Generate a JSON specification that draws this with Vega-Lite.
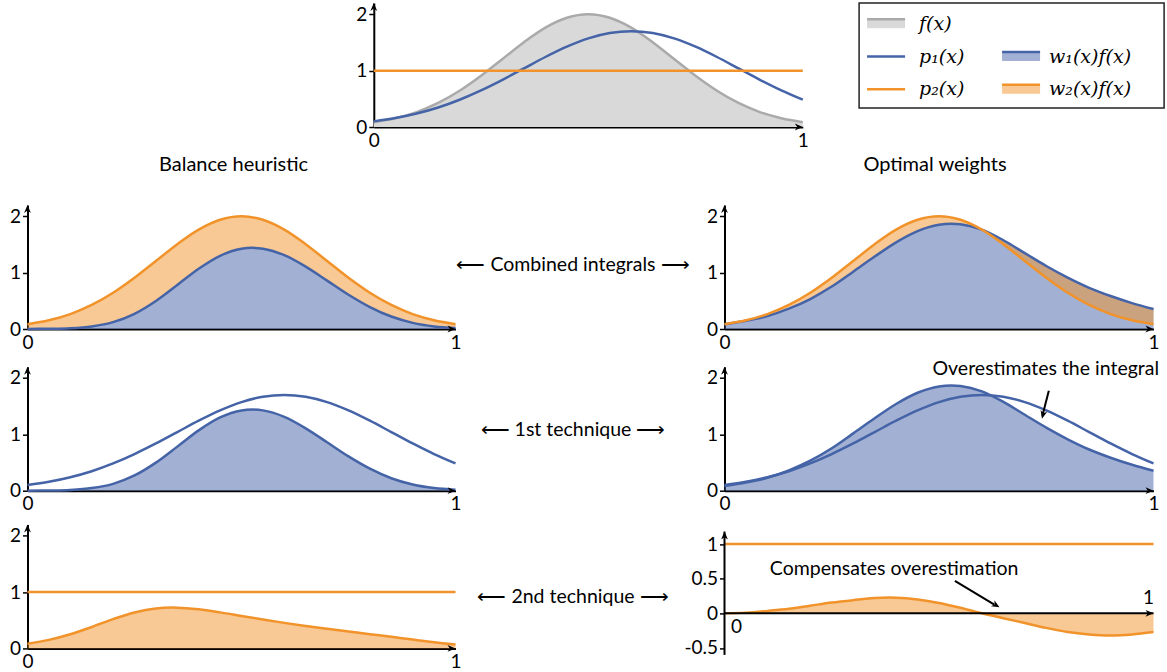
{
  "$schema": "https://vega.github.io/schema/vega-lite/v6.json",
  "padding": {"left": 8.5, "top": -1, "right": 0, "bottom": 0},
  "background": "white",
  "datasets": {
    "curves": [
      {"x": 0.0, "f": 0.085, "p1": 0.100, "wb1": 0.001, "wb2": 0.084, "wo1": 0.085, "wo2": 0.0},
      {"x": 0.05, "f": 0.155, "p1": 0.158, "wb1": 0.004, "wb2": 0.151, "wo1": 0.145, "wo2": 0.01},
      {"x": 0.1, "f": 0.265, "p1": 0.239, "wb1": 0.014, "wb2": 0.251, "wo1": 0.23, "wo2": 0.035},
      {"x": 0.15, "f": 0.426, "p1": 0.346, "wb1": 0.046, "wb2": 0.380, "wo1": 0.361, "wo2": 0.065},
      {"x": 0.2, "f": 0.642, "p1": 0.484, "wb1": 0.122, "wb2": 0.520, "wo1": 0.532, "wo2": 0.11},
      {"x": 0.25, "f": 0.908, "p1": 0.650, "wb1": 0.270, "wb2": 0.638, "wo1": 0.753, "wo2": 0.155},
      {"x": 0.3, "f": 1.207, "p1": 0.838, "wb1": 0.498, "wb2": 0.709, "wo1": 1.017, "wo2": 0.19},
      {"x": 0.35, "f": 1.505, "p1": 1.040, "wb1": 0.782, "wb2": 0.723, "wo1": 1.285, "wo2": 0.22},
      {"x": 0.4, "f": 1.763, "p1": 1.242, "wb1": 1.070, "wb2": 0.693, "wo1": 1.538, "wo2": 0.225},
      {"x": 0.45, "f": 1.938, "p1": 1.425, "wb1": 1.299, "wb2": 0.639, "wo1": 1.738, "wo2": 0.2},
      {"x": 0.5, "f": 2.0, "p1": 1.572, "wb1": 1.424, "wb2": 0.576, "wo1": 1.85, "wo2": 0.15},
      {"x": 0.55, "f": 1.938, "p1": 1.667, "wb1": 1.425, "wb2": 0.513, "wo1": 1.858, "wo2": 0.08},
      {"x": 0.6, "f": 1.763, "p1": 1.700, "wb1": 1.310, "wb2": 0.453, "wo1": 1.763, "wo2": 0.0},
      {"x": 0.65, "f": 1.505, "p1": 1.667, "wb1": 1.107, "wb2": 0.398, "wo1": 1.575, "wo2": -0.07},
      {"x": 0.7, "f": 1.207, "p1": 1.572, "wb1": 0.859, "wb2": 0.348, "wo1": 1.347, "wo2": -0.14},
      {"x": 0.75, "f": 0.908, "p1": 1.425, "wb1": 0.608, "wb2": 0.300, "wo1": 1.118, "wo2": -0.21},
      {"x": 0.8, "f": 0.642, "p1": 1.242, "wb1": 0.390, "wb2": 0.252, "wo1": 0.912, "wo2": -0.27},
      {"x": 0.85, "f": 0.426, "p1": 1.040, "wb1": 0.221, "wb2": 0.205, "wo1": 0.731, "wo2": -0.305},
      {"x": 0.9, "f": 0.265, "p1": 0.838, "wb1": 0.109, "wb2": 0.156, "wo1": 0.585, "wo2": -0.32},
      {"x": 0.95, "f": 0.155, "p1": 0.650, "wb1": 0.046, "wb2": 0.109, "wo1": 0.46, "wo2": -0.305},
      {"x": 1.0, "f": 0.085, "p1": 0.484, "wb1": 0.016, "wb2": 0.069, "wo1": 0.355, "wo2": -0.27}
    ]
  },
  "config": {
    "font": "Lato",
    "view": {"stroke": null},
    "axis": {"domainColor": "black", "domainWidth": 2, "tickColor": "black", "tickWidth": 1.5, "tickSize": 5, "labelFont": "Lato", "labelFontSize": 19, "labelColor": "black", "labelPadding": 2, "grid": false, "zindex": 1},
    "axisX": {"labelPadding": 4},
    "title": {"font": "Lato", "fontSize": 20, "fontWeight": "normal", "color": "black", "anchor": "middle"},
    "text": {"font": "Lato", "fontSize": 19, "color": "black"}
  },
  "spacing": 5,
  "vconcat": [
    {
      "bounds": "flush",
      "spacing": 56.3,
      "hconcat": [
        {"width": 289.4, "height": 10, "data": {"name": "curves"}, "transform": [{"filter": "datum.x == 0"}], "mark": {"type": "text"}, "encoding": {"text": {"value": ""}}},
        {
          "width": 429, "height": 124,
          "data": {"name": "curves"},
          "encoding": {"x": {"field": "x", "type": "quantitative", "title": null, "scale": {"domain": [0, 1], "nice": false, "zero": false}, "axis": {"values": [0, 1], "format": "d", "ticks": false, "labelFlush": false}}},
          "layer": [
            {"mark": {"type": "area", "color": "#d9d9d9", "opacity": 1, "interpolate": "cardinal"}, "encoding": {"y": {"field": "f", "type": "quantitative", "title": null, "scale": {"domain": [0, 2.2], "nice": false}, "axis": {"values": [0, 1, 2], "format": "d"}}}},
            {"mark": {"type": "line", "color": "#aaaaaa", "strokeWidth": 2.5, "interpolate": "cardinal"}, "encoding": {"y": {"field": "f", "type": "quantitative", "title": null}}},
            {"mark": {"type": "line", "color": "#4563a7", "strokeWidth": 2.5, "interpolate": "cardinal"}, "encoding": {"y": {"field": "p1", "type": "quantitative", "title": null}}},
            {"transform": [{"filter": "datum.x == 0"}], "mark": {"type": "rule", "color": "#f1932a", "strokeWidth": 2.5}, "encoding": {"x": {"datum": 0, "type": "quantitative"}, "x2": {"datum": 1}, "y": {"datum": 1, "type": "quantitative"}}},
            {"transform": [{"filter": "datum.x == 0"}], "mark": {"type": "point", "shape": "M0,0 L-2,-0.85 L-1.4,0 L-2,0.85 Z", "size": 64, "filled": true, "color": "black", "opacity": 1}, "encoding": {"x": {"datum": 1, "type": "quantitative"}, "y": {"datum": 0, "type": "quantitative"}}},
            {"transform": [{"filter": "datum.x == 0"}], "mark": {"type": "point", "shape": "M0,0 L-0.85,2 L0,1.4 L0.85,2 Z", "size": 64, "filled": true, "color": "black", "opacity": 1}, "encoding": {"x": {"datum": 0, "type": "quantitative"}, "y": {"datum": 2.2, "type": "quantitative"}}}
          ]
        },
        {
          "width": 305, "height": 105,
          "view": {"stroke": "#222222", "strokeWidth": 1.5},
          "data": {"values": [
            {"label": "f(x)", "col": 0, "row": 0, "kind": "area", "series": "f"},
            {"label": "p₁(x)", "col": 0, "row": 1, "kind": "line", "series": "p1"},
            {"label": "p₂(x)", "col": 0, "row": 2, "kind": "line", "series": "p2"},
            {"label": "w₁(x)f(x)", "col": 1, "row": 1, "kind": "area", "series": "w1"},
            {"label": "w₂(x)f(x)", "col": 1, "row": 2, "kind": "area", "series": "w2"}
          ]},
          "encoding": {
            "x": {"field": "col", "type": "quantitative", "scale": {"domain": [-0.059, 2.2], "nice": false, "zero": false}, "axis": null},
            "y": {"field": "row", "type": "quantitative", "scale": {"domain": [-0.635, 2.571], "nice": false, "zero": false, "reverse": true}, "axis": null}
          },
          "layer": [
            {"transform": [{"filter": "datum.kind == 'area'"}], "mark": {"type": "point", "shape": "M0,-0.45 L3.8,-0.45 L3.8,0.45 L0,0.45 Z", "size": 400, "filled": true, "opacity": 1, "strokeWidth": 0}, "encoding": {"fill": {"field": "series", "type": "nominal", "scale": {"domain": ["f", "w1", "w2"], "range": ["#d9d9d9", "#a2b1d3", "#f8c994"]}, "legend": null}}},
            {"transform": [{"filter": "datum.kind == 'area'"}], "mark": {"type": "point", "shape": "M0,-0.45 L3.8,-0.45", "size": 400, "filled": false, "opacity": 1, "strokeWidth": 2.5}, "encoding": {"stroke": {"field": "series", "type": "nominal", "scale": {"domain": ["f", "p1", "p2", "w1", "w2"], "range": ["#aaaaaa", "#4563a7", "#f1932a", "#4563a7", "#f1932a"]}, "legend": null}}},
            {"transform": [{"filter": "datum.kind == 'line'"}], "mark": {"type": "point", "shape": "M0,0 L3.8,0", "size": 400, "filled": false, "opacity": 1, "strokeWidth": 2.5}, "encoding": {"stroke": {"field": "series", "type": "nominal", "legend": null}}},
            {"transform": [{"filter": "datum.col == 0"}], "mark": {"type": "text", "align": "left", "baseline": "middle", "dx": 52, "font": "DejaVu Serif", "fontStyle": "italic", "fontSize": 19}, "encoding": {"text": {"field": "label"}}},
            {"transform": [{"filter": "datum.col == 1"}], "mark": {"type": "text", "align": "left", "baseline": "middle", "dx": 47, "font": "DejaVu Serif", "fontStyle": "italic", "fontSize": 19}, "encoding": {"text": {"field": "label"}}}
          ]
        }
      ]
    },
    {
      "bounds": "flush",
      "columns": 3,
      "align": "each",
      "spacing": {"row": 33.7, "column": 0},
      "concat": [
        {
          "width": 428, "height": 124,
          "title": {"text": "Balance heuristic", "dx": -8, "offset": 30},
          "data": {"name": "curves"},
          "encoding": {"x": {"field": "x", "type": "quantitative", "title": null, "scale": {"domain": [0, 1], "nice": false, "zero": false}, "axis": {"values": [0, 1], "format": "d", "ticks": false, "labelFlush": false}}},
          "layer": [
            {"mark": {"type": "area", "color": "#4563a7", "opacity": 0.5, "interpolate": "cardinal"}, "encoding": {"y": {"field": "wb1", "type": "quantitative", "title": null, "scale": {"domain": [0, 2.2], "nice": false}, "axis": {"values": [0, 1, 2], "format": "d"}}}},
            {"mark": {"type": "area", "color": "#f1932a", "opacity": 0.5, "interpolate": "cardinal"}, "encoding": {"y": {"field": "wb1", "type": "quantitative", "title": null}, "y2": {"field": "f"}}},
            {"mark": {"type": "line", "color": "#4563a7", "strokeWidth": 2.5, "interpolate": "cardinal"}, "encoding": {"y": {"field": "wb1", "type": "quantitative", "title": null}}},
            {"mark": {"type": "line", "color": "#f1932a", "strokeWidth": 2.5, "interpolate": "cardinal"}, "encoding": {"y": {"field": "f", "type": "quantitative", "title": null}}},
            {"transform": [{"filter": "datum.x == 0"}], "mark": {"type": "point", "shape": "M0,0 L-2,-0.85 L-1.4,0 L-2,0.85 Z", "size": 64, "filled": true, "color": "black", "opacity": 1}, "encoding": {"x": {"datum": 1, "type": "quantitative"}, "y": {"datum": 0, "type": "quantitative"}}},
            {"transform": [{"filter": "datum.x == 0"}], "mark": {"type": "point", "shape": "M0,0 L-0.85,2 L0,1.4 L0.85,2 Z", "size": 64, "filled": true, "color": "black", "opacity": 1}, "encoding": {"x": {"datum": 0, "type": "quantitative"}, "y": {"datum": 2.2, "type": "quantitative"}}}
          ]
        },
        {"width": 268.2, "height": 127.6, "data": {"values": [{"t": "⟵ Combined integrals ⟶"}]}, "mark": {"type": "text", "fontSize": 19.5, "dx": -16.6, "dy": -3.5}, "encoding": {"text": {"field": "t"}}},
        {
          "width": 429, "height": 124,
          "title": {"text": "Optimal weights", "dx": -4, "offset": 30},
          "data": {"name": "curves"},
          "encoding": {"x": {"field": "x", "type": "quantitative", "title": null, "scale": {"domain": [0, 1], "nice": false, "zero": false}, "axis": {"values": [0, 1], "format": "d", "ticks": false, "labelFlush": false}}},
          "layer": [
            {"mark": {"type": "area", "color": "#4563a7", "opacity": 0.5, "interpolate": "cardinal"}, "encoding": {"y": {"field": "wo1", "type": "quantitative", "title": null, "scale": {"domain": [0, 2.2], "nice": false}, "axis": {"values": [0, 1, 2], "format": "d"}}}},
            {"mark": {"type": "area", "color": "#f1932a", "opacity": 0.5, "interpolate": "cardinal"}, "encoding": {"y": {"field": "wo1", "type": "quantitative", "title": null}, "y2": {"field": "f"}}},
            {"mark": {"type": "line", "color": "#4563a7", "strokeWidth": 2.5, "interpolate": "cardinal"}, "encoding": {"y": {"field": "wo1", "type": "quantitative", "title": null}}},
            {"mark": {"type": "line", "color": "#f1932a", "strokeWidth": 2.5, "interpolate": "cardinal"}, "encoding": {"y": {"field": "f", "type": "quantitative", "title": null}}},
            {"transform": [{"filter": "datum.x == 0"}], "mark": {"type": "point", "shape": "M0,0 L-2,-0.85 L-1.4,0 L-2,0.85 Z", "size": 64, "filled": true, "color": "black", "opacity": 1}, "encoding": {"x": {"datum": 1, "type": "quantitative"}, "y": {"datum": 0, "type": "quantitative"}}},
            {"transform": [{"filter": "datum.x == 0"}], "mark": {"type": "point", "shape": "M0,0 L-0.85,2 L0,1.4 L0.85,2 Z", "size": 64, "filled": true, "color": "black", "opacity": 1}, "encoding": {"x": {"datum": 0, "type": "quantitative"}, "y": {"datum": 2.2, "type": "quantitative"}}}
          ]
        },
        {
          "width": 428, "height": 124,
          "data": {"name": "curves"},
          "encoding": {"x": {"field": "x", "type": "quantitative", "title": null, "scale": {"domain": [0, 1], "nice": false, "zero": false}, "axis": {"values": [0, 1], "format": "d", "ticks": false, "labelFlush": false}}},
          "layer": [
            {"mark": {"type": "area", "color": "#4563a7", "opacity": 0.5, "interpolate": "cardinal"}, "encoding": {"y": {"field": "wb1", "type": "quantitative", "title": null, "scale": {"domain": [0, 2.2], "nice": false}, "axis": {"values": [0, 1, 2], "format": "d"}}}},
            {"mark": {"type": "line", "color": "#4563a7", "strokeWidth": 2.5, "interpolate": "cardinal"}, "encoding": {"y": {"field": "wb1", "type": "quantitative", "title": null}}},
            {"mark": {"type": "line", "color": "#4563a7", "strokeWidth": 2.5, "interpolate": "cardinal"}, "encoding": {"y": {"field": "p1", "type": "quantitative", "title": null}}},
            {"transform": [{"filter": "datum.x == 0"}], "mark": {"type": "point", "shape": "M0,0 L-2,-0.85 L-1.4,0 L-2,0.85 Z", "size": 64, "filled": true, "color": "black", "opacity": 1}, "encoding": {"x": {"datum": 1, "type": "quantitative"}, "y": {"datum": 0, "type": "quantitative"}}},
            {"transform": [{"filter": "datum.x == 0"}], "mark": {"type": "point", "shape": "M0,0 L-0.85,2 L0,1.4 L0.85,2 Z", "size": 64, "filled": true, "color": "black", "opacity": 1}, "encoding": {"x": {"datum": 0, "type": "quantitative"}, "y": {"datum": 2.2, "type": "quantitative"}}}
          ]
        },
        {"width": 268.2, "height": 124, "data": {"values": [{"t": "⟵ 1st technique ⟶"}]}, "mark": {"type": "text", "fontSize": 19.5, "dx": -16.6, "dy": 1}, "encoding": {"text": {"field": "t"}}},
        {
          "width": 429, "height": 124,
          "data": {"name": "curves"},
          "encoding": {"x": {"field": "x", "type": "quantitative", "title": null, "scale": {"domain": [0, 1], "nice": false, "zero": false}, "axis": {"values": [0, 1], "format": "d", "ticks": false, "labelFlush": false}}},
          "layer": [
            {"mark": {"type": "area", "color": "#4563a7", "opacity": 0.5, "interpolate": "cardinal"}, "encoding": {"y": {"field": "wo1", "type": "quantitative", "title": null, "scale": {"domain": [0, 2.2], "nice": false}, "axis": {"values": [0, 1, 2], "format": "d"}}}},
            {"mark": {"type": "line", "color": "#4563a7", "strokeWidth": 2.5, "interpolate": "cardinal"}, "encoding": {"y": {"field": "wo1", "type": "quantitative", "title": null}}},
            {"mark": {"type": "line", "color": "#4563a7", "strokeWidth": 2.5, "interpolate": "cardinal"}, "encoding": {"y": {"field": "p1", "type": "quantitative", "title": null}}},
            {"transform": [{"filter": "datum.x == 0"}], "mark": {"type": "point", "shape": "M0,0 L-2,-0.85 L-1.4,0 L-2,0.85 Z", "size": 64, "filled": true, "color": "black", "opacity": 1}, "encoding": {"x": {"datum": 1, "type": "quantitative"}, "y": {"datum": 0, "type": "quantitative"}}},
            {"transform": [{"filter": "datum.x == 0"}], "mark": {"type": "point", "shape": "M0,0 L-0.85,2 L0,1.4 L0.85,2 Z", "size": 64, "filled": true, "color": "black", "opacity": 1}, "encoding": {"x": {"datum": 0, "type": "quantitative"}, "y": {"datum": 2.2, "type": "quantitative"}}},
            {"transform": [{"filter": "datum.x == 0"}], "mark": {"type": "text", "align": "right", "baseline": "middle", "fontSize": 19.5}, "encoding": {"x": {"datum": 1.013, "type": "quantitative"}, "y": {"datum": 2.165, "type": "quantitative"}, "text": {"value": "Overestimates the integral"}}},
            {"transform": [{"filter": "datum.x == 0"}], "mark": {"type": "rule", "color": "black", "strokeWidth": 2}, "encoding": {"x": {"datum": 0.756, "type": "quantitative"}, "y": {"datum": 1.775, "type": "quantitative"}, "x2": {"datum": 0.741}, "y2": {"datum": 1.33}}},
            {"transform": [{"filter": "datum.x == 0"}], "mark": {"type": "point", "shape": "M0,0 L-0.85,-2 L0,-1.4 L0.85,-2 Z", "size": 64, "filled": true, "color": "black", "opacity": 1, "angle": 14}, "encoding": {"x": {"datum": 0.740, "type": "quantitative"}, "y": {"datum": 1.278, "type": "quantitative"}}}
          ]
        },
        {
          "width": 428, "height": 124,
          "data": {"name": "curves"},
          "encoding": {"x": {"field": "x", "type": "quantitative", "title": null, "scale": {"domain": [0, 1], "nice": false, "zero": false}, "axis": {"values": [0, 1], "format": "d", "ticks": false, "labelFlush": false}}},
          "layer": [
            {"mark": {"type": "area", "color": "#f1932a", "opacity": 0.5, "interpolate": "cardinal"}, "encoding": {"y": {"field": "wb2", "type": "quantitative", "title": null, "scale": {"domain": [0, 2.2], "nice": false}, "axis": {"values": [0, 1, 2], "format": "d"}}}},
            {"mark": {"type": "line", "color": "#f1932a", "strokeWidth": 2.5, "interpolate": "cardinal"}, "encoding": {"y": {"field": "wb2", "type": "quantitative", "title": null}}},
            {"transform": [{"filter": "datum.x == 0"}], "mark": {"type": "rule", "color": "#f1932a", "strokeWidth": 2.5}, "encoding": {"x": {"datum": 0, "type": "quantitative"}, "x2": {"datum": 1}, "y": {"datum": 1, "type": "quantitative"}}},
            {"transform": [{"filter": "datum.x == 0"}], "mark": {"type": "point", "shape": "M0,0 L-2,-0.85 L-1.4,0 L-2,0.85 Z", "size": 64, "filled": true, "color": "black", "opacity": 1}, "encoding": {"x": {"datum": 1, "type": "quantitative"}, "y": {"datum": 0, "type": "quantitative"}}},
            {"transform": [{"filter": "datum.x == 0"}], "mark": {"type": "point", "shape": "M0,0 L-0.85,2 L0,1.4 L0.85,2 Z", "size": 64, "filled": true, "color": "black", "opacity": 1}, "encoding": {"x": {"datum": 0, "type": "quantitative"}, "y": {"datum": 2.2, "type": "quantitative"}}}
          ]
        },
        {"width": 268.2, "height": 124, "data": {"values": [{"t": "⟵ 2nd technique ⟶"}]}, "mark": {"type": "text", "fontSize": 19.5, "dx": -16.6, "dy": 11}, "encoding": {"text": {"field": "t"}}},
        {
          "width": 429, "height": 130.5,
          "data": {"name": "curves"},
          "encoding": {"x": {"field": "x", "type": "quantitative", "title": null, "scale": {"domain": [0, 1], "nice": false, "zero": false}, "axis": null}},
          "layer": [
            {"mark": {"type": "area", "color": "#f1932a", "opacity": 0.5, "interpolate": "cardinal"}, "encoding": {"y": {"field": "wo2", "type": "quantitative", "title": null, "scale": {"domain": [-0.6, 1.283], "nice": false, "zero": false}, "axis": {"values": [-0.5, 0, 0.5, 1], "format": ".1~f", "domain": false, "labelExpr": "replace(datum.label, '−', '-')"}}}},
            {"mark": {"type": "line", "color": "#f1932a", "strokeWidth": 2.5, "interpolate": "cardinal"}, "encoding": {"y": {"field": "wo2", "type": "quantitative", "title": null}}},
            {"transform": [{"filter": "datum.x == 0"}], "mark": {"type": "rule", "color": "#f1932a", "strokeWidth": 2.5}, "encoding": {"x": {"datum": 0, "type": "quantitative"}, "x2": {"datum": 1}, "y": {"datum": 1, "type": "quantitative"}}},
            {"transform": [{"filter": "datum.x == 0"}], "mark": {"type": "rule", "color": "black", "strokeWidth": 2}, "encoding": {"x": {"datum": 0, "type": "quantitative"}, "x2": {"datum": 1}, "y": {"datum": 0, "type": "quantitative"}}},
            {"transform": [{"filter": "datum.x == 0"}], "mark": {"type": "rule", "color": "black", "strokeWidth": 2}, "encoding": {"x": {"datum": 0, "type": "quantitative"}, "y": {"datum": -0.6, "type": "quantitative"}, "y2": {"datum": 1.18}}},
            {"transform": [{"filter": "datum.x == 0"}], "mark": {"type": "point", "shape": "M0,0 L-2,-0.85 L-1.4,0 L-2,0.85 Z", "size": 64, "filled": true, "color": "black", "opacity": 1}, "encoding": {"x": {"datum": 1, "type": "quantitative"}, "y": {"datum": 0, "type": "quantitative"}}},
            {"transform": [{"filter": "datum.x == 0"}], "mark": {"type": "point", "shape": "M0,0 L-0.85,2 L0,1.4 L0.85,2 Z", "size": 64, "filled": true, "color": "black", "opacity": 1}, "encoding": {"x": {"datum": 0, "type": "quantitative"}, "y": {"datum": 1.18, "type": "quantitative"}}},
            {"transform": [{"filter": "datum.x == 0"}], "mark": {"type": "text", "align": "center", "baseline": "middle", "fontSize": 19, "dx": 12, "dy": 14}, "encoding": {"x": {"datum": 0, "type": "quantitative"}, "y": {"datum": 0, "type": "quantitative"}, "text": {"value": "0"}}},
            {"transform": [{"filter": "datum.x == 0"}], "mark": {"type": "text", "align": "center", "baseline": "middle", "fontSize": 19, "dx": -5, "dy": -15}, "encoding": {"x": {"datum": 1, "type": "quantitative"}, "y": {"datum": 0, "type": "quantitative"}, "text": {"value": "1"}}},
            {"transform": [{"filter": "datum.x == 0"}], "mark": {"type": "text", "align": "left", "baseline": "middle", "fontSize": 19.5}, "encoding": {"x": {"datum": 0.1056, "type": "quantitative"}, "y": {"datum": 0.639, "type": "quantitative"}, "text": {"value": "Compensates overestimation"}}},
            {"transform": [{"filter": "datum.x == 0"}], "mark": {"type": "rule", "color": "black", "strokeWidth": 2}, "encoding": {"x": {"datum": 0.537, "type": "quantitative"}, "y": {"datum": 0.469, "type": "quantitative"}, "x2": {"datum": 0.629}, "y2": {"datum": 0.125}}},
            {"transform": [{"filter": "datum.x == 0"}], "mark": {"type": "point", "shape": "M0,0 L-0.85,-2 L0,-1.4 L0.85,-2 Z", "size": 64, "filled": true, "color": "black", "opacity": 1, "angle": -59}, "encoding": {"x": {"datum": 0.641, "type": "quantitative"}, "y": {"datum": 0.086, "type": "quantitative"}}}
          ]
        }
      ]
    }
  ]
}
